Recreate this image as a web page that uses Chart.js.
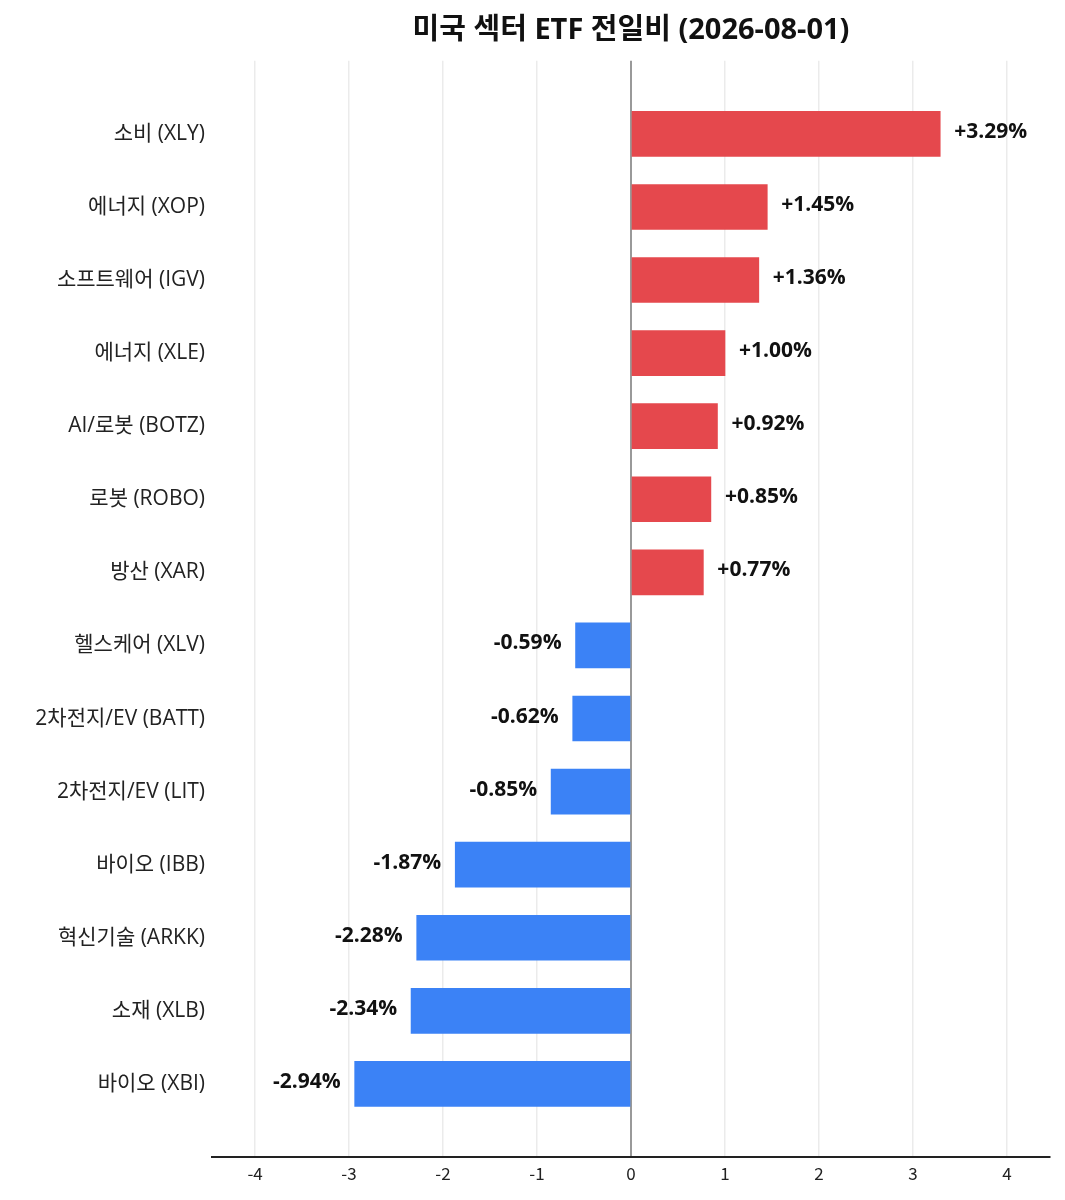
<!DOCTYPE html>
<html>
<head>
<meta charset="utf-8">
<script src="https://cdn.jsdelivr.net/npm/chart.js@4"></script>
<style>
  body { margin: 0; background: #fff; }
  #wrap { width: 1065px; height: 1200px; }
</style>
</head>
<body>
<div id="wrap"><canvas id="graficoEtf" width="1065" height="1200"></canvas></div>
<script>
const titolo = '미국 섹터 ETF 전일비 (2026-08-01)';
const settori = [
    '소비 (XLY)', '에너지 (XOP)', '소프트웨어 (IGV)', '에너지 (XLE)', 'AI/로봇 (BOTZ)',
    '로봇 (ROBO)', '방산 (XAR)', '헬스케어 (XLV)', '2차전지/EV (BATT)', '2차전지/EV (LIT)',
    '바이오 (IBB)', '혁신기술 (ARKK)', '소재 (XLB)', '바이오 (XBI)'
];
const variazioni = [3.29, 1.45, 1.36, 1.00, 0.92, 0.85, 0.77, -0.59, -0.62, -0.85, -1.87, -2.28, -2.34, -2.94];
const tickX = [-4, -3, -2, -1, 0, 1, 2, 3, 4];

const ROSSO = '#e5484d';
const BLU = '#3b82f6';
const FONT = "'Open Sans', 'Noto Sans CJK KR', sans-serif";
const FONT_TICK = "'Noto Sans CJK KR', 'Noto Sans', sans-serif";

const limite = Math.max(...variazioni.map(v => Math.abs(v))) * 1.355;

// etichette dei valori accanto alle barre
const etichetteValori = {
    id: 'etichetteValori',
    afterDatasetsDraw(chart) {
        const ctx = chart.ctx;
        const meta = chart.getDatasetMeta(0);
        ctx.save();
        ctx.font = 'bold 21px ' + FONT;
        ctx.fillStyle = '#111';
        ctx.textBaseline = 'middle';
        meta.data.forEach((bar, i) => {
            const v = variazioni[i];
            const testo = (v > 0 ? '+' : '') + v.toFixed(2) + '%';
            if (v >= 0) {
                ctx.textAlign = 'left';
                ctx.fillText(testo, bar.x + 14, bar.y - 2);
            } else {
                ctx.textAlign = 'right';
                ctx.fillText(testo, bar.x - 14, bar.y - 2);
            }
        });
        ctx.restore();
    }
};

new Chart(document.getElementById('graficoEtf'), {
    type: 'bar',
    data: {
        datasets: [{
            label: '전일비',
            data: variazioni.map((v, i) => ({ x: v, y: i })),
            backgroundColor: variazioni.map(v => v >= 0 ? ROSSO : BLU),
            borderWidth: 0,
            barThickness: 45
        }]
    },
    plugins: [etichetteValori],
    options: {
        indexAxis: 'y',
        responsive: false,
        animation: false,
        layout: { padding: { left: 0, right: 15, top: 0, bottom: 0 } },
        scales: {
            x: {
                type: 'linear',
                min: -limite,
                max: limite,
                afterBuildTicks: scale => {
                    scale.ticks = tickX.map(v => ({ value: v }));
                },
                afterFit: scale => { scale.height = 43; },
                ticks: {
                    font: { family: FONT_TICK, size: 17 },
                    color: '#222',
                    padding: 6
                },
                grid: {
                    drawTicks: false,
                    color: c => c.tick && c.tick.value === 0 ? '#999999' : '#ebebeb',
                    lineWidth: c => c.tick && c.tick.value === 0 ? 2 : 1.5
                },
                border: { display: true, color: '#222', width: 2 }
            },
            y: {
                type: 'linear',
                reverse: true,
                offset: false,
                min: -1,
                max: settori.length,
                afterBuildTicks: scale => {
                    scale.ticks = settori.map((s, i) => ({ value: i }));
                },
                afterFit: scale => { scale.width = 212; },
                ticks: {
                    font: { family: FONT, size: 21 },
                    color: '#222',
                    padding: 7,
                    callback: v => settori[v]
                },
                grid: { display: false, drawTicks: false },
                border: { display: false }
            }
        },
        plugins: {
            legend: { display: false },
            tooltip: { enabled: false },
            title: {
                display: true,
                text: titolo,
                fullSize: false,
                color: '#111',
                font: { family: FONT, size: 29, weight: 'bold' },
                padding: { top: 13, bottom: 13 }
            }
        }
    }
});
</script>
</body>
</html>
